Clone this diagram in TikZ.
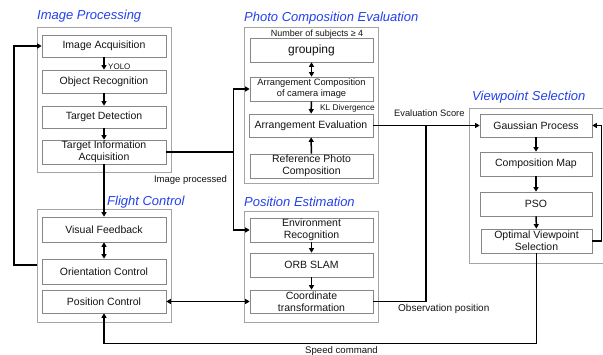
\documentclass[tikz,border=0pt]{standalone}
\usepackage{fontspec}
\setmainfont{Liberation Sans}
\usetikzlibrary{arrows.meta}
\definecolor{ttl}{RGB}{35,65,235}
\definecolor{bx}{RGB}{135,135,135}
\definecolor{grpc}{RGB}{165,165,165}
\definecolor{txt}{RGB}{20,20,20}
\begin{document}
\begin{tikzpicture}[x=1pt,y=-1pt,
  stepbox/.style={draw=bx,line width=0.7pt,fill=white,inner sep=0pt,align=center,text=txt,
    minimum width=124pt,minimum height=23pt,font=\fontsize{10.5}{12}\selectfont},
  groupbox/.style={draw=grpc,line width=0.8pt},
  ttlnode/.style={font=\fontsize{13}{15}\selectfont\itshape,text=ttl,anchor=base west,inner sep=0pt},
  lbl/.style={inner sep=0pt,text=txt},
  conn/.style={line width=1.5pt,-{Triangle[length=4.5pt,width=5pt]}},
  dconn/.style={line width=1.5pt,{Triangle[length=4.5pt,width=5pt]}-{Triangle[length=4.5pt,width=5pt]}},
  plain/.style={line width=1.5pt}]
\useasboundingbox (0,0) rectangle (603,355);
\fill[white] (0,0) rectangle (603,355);

% group boxes
\draw[groupbox] (37,27) rectangle (171,172);
\draw[groupbox] (37,209) rectangle (171,322);
\draw[groupbox] (244,27) rectangle (378,183);
\draw[groupbox] (244,211) rectangle (378,322);
\draw[groupbox] (469,108) rectangle (615,263);

% titles
\node[ttlnode] (t1) at (37,19.5) {Image Processing};
\node[ttlnode] (t2) at (107,206) {Flight Control};
\node[ttlnode] (t3) at (244,21.5) {Photo Composition Evaluation};
\node[ttlnode] (t4) at (244,206.5) {Position Estimation};
\node[ttlnode] (t5) at (472,100.5) {Viewpoint Selection};

% Image processing
\node[stepbox,minimum height=22pt] (ia) at (104,46) {Image Acquisition};
\node[stepbox] (or) at (104,81.5) {Object Recognition};
\node[stepbox,minimum height=22pt] (td) at (104,117) {Target Detection};
\node[stepbox,minimum height=24pt] (tia) at (104,152) {Target Information\\Acquisition};

% Flight control
\node[stepbox,minimum height=25pt] (vf) at (104,229.5) {Visual Feedback};
\node[stepbox,minimum height=25pt] (oc) at (104,271.5) {Orientation Control};
\node[stepbox] (pc) at (104,301.5) {Position Control};

% Photo composition evaluation
\node[stepbox,minimum width=123pt,minimum height=24pt,font=\fontsize{12}{14}\selectfont] (grp) at (311.5,50) {grouping};
\node[stepbox,minimum width=123pt,minimum height=24pt,font=\fontsize{9.3}{11}\selectfont] (acc) at (311.5,89) {Arrangement Composition\\of camera image};
\node[stepbox] (ae) at (311,125.5) {Arrangement Evaluation};
\node[stepbox,minimum width=123pt,minimum height=24pt] (rpc) at (311.5,166) {Reference Photo\\Composition};

% Position estimation
\node[stepbox,minimum width=123pt,minimum height=24pt] (er) at (311.5,230) {Environment\\Recognition};
\node[stepbox,minimum width=123pt,minimum height=24pt] (orb) at (311.5,265) {ORB SLAM};
\node[stepbox,minimum width=123pt] (ct) at (311.5,301.5) {Coordinate\\transformation};

% Viewpoint selection
\node[stepbox,minimum width=112pt] (gp) at (536,125.5) {Gaussian Process};
\node[stepbox,minimum width=112pt,minimum height=24pt] (cm) at (536,164) {Composition Map};
\node[stepbox,minimum width=112pt,minimum height=24pt] (pso) at (536,204) {PSO};
\node[stepbox,minimum width=111pt,minimum height=24pt] (ovs) at (536.5,241) {Optimal Viewpoint\\Selection};

% labels
\node[lbl,anchor=west,font=\fontsize{8}{9}\selectfont] (yolo) at (108,67) {YOLO};
\node[lbl,anchor=west,font=\fontsize{8.3}{9}\selectfont] (kl) at (320,108) {KL Divergence};
\node[lbl,font=\fontsize{9}{10}\selectfont] (nos) at (317,34) {Number of subjects ≥ 4};
\node[lbl,font=\fontsize{9.5}{11}\selectfont] (imp) at (190.5,180) {Image processed};
\node[lbl,anchor=west,font=\fontsize{9.3}{11}\selectfont] (evs) at (394,113) {Evaluation Score};
\node[lbl,anchor=west,font=\fontsize{10}{11}\selectfont] (obs) at (398,309) {Observation position};
\node[lbl,font=\fontsize{9.6}{11}\selectfont] (spd) at (341.5,351) {Speed command};

% coordinates
\coordinate (loopstart) at (37,265);
\coordinate (j1) at (426,125.5);

% connectors within groups
\draw[conn] (ia) -- (or);
\draw[conn] (or) -- (td);
\draw[conn] (td) -- (tia);
\draw[dconn] (vf) -- (oc);
\draw[dconn] (grp) -- (acc);
\draw[conn] (acc) -- (ae);
\draw[conn] (rpc) -- (ae);
\draw[conn] (er) -- (orb);
\draw[conn] (orb) -- (ct);
\draw[conn] (gp) -- (cm);
\draw[conn] (cm) -- (pso);
\draw[conn] (pso) -- (ovs);

% connectors between groups
\draw[conn] (tia) -- (vf);
\draw[conn] (loopstart) -- ++(-23,0) |- (ia.west);
\draw[conn] (tia.east) -- ++(67,0) |- (acc.west);
\draw[conn] (tia.east) -- ++(67,0) |- (er.west);
\draw[conn] (ae.east) -- (gp.west);
\draw[plain] (ct.east) -| (j1);
\draw[dconn] (ct.west) -- (pc.east);
\draw[conn] (ovs.east) -- ++(9,0) |- (gp.east);
\draw[conn] (ovs.south) -- ++(0,90) -| (pc.south);
\end{tikzpicture}
\end{document}
